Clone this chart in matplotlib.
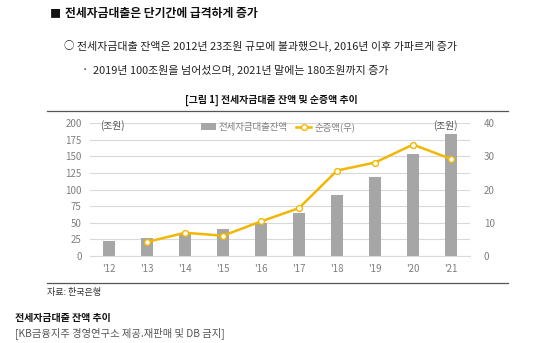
import numpy as np
import matplotlib
matplotlib.use('Agg')
import matplotlib.pyplot as plt
from matplotlib.lines import Line2D

plt.rcParams['font.family'] = ['Noto Sans CJK KR', 'DejaVu Sans']

W, H = 536, 343

# data
years = ["'12", "'13", "'14", "'15", "'16", "'17", "'18", "'19", "'20", "'21"]
balance = [23, 27, 34, 40, 50, 65, 91, 119, 153, 183]          # 잔액 (조원, left)
net_increase = [None, 4.2, 7.0, 6.1, 10.4, 14.4, 25.7, 28.1, 33.5, 29.2]  # 순증액 (조원, right)

BAR_COLOR = '#a6a6a6'
LINE_COLOR = '#f2b705'
GRID_COLOR = '#d9d9d9'
TICK_COLOR = '#7f7f7f'


def fx(px):
    return px / W


def fy(py):
    return 1 - py / H


fig = plt.figure(figsize=(W / 100, H / 100), dpi=100)
fig.patch.set_facecolor('white')

# page text above the chart
fig.text(fx(50), fy(14), '■', fontsize=8, va='center', ha='left', color='#111111')
fig.text(fx(65), fy(14), '전세자금대출은 단기간에 급격하게 증가', fontsize=8.5,
         fontweight='bold', va='center', ha='left', color='#111111')
fig.text(fx(64), fy(46), '○', fontsize=7.5, va='center', ha='left', color='#222222')
fig.text(fx(77), fy(46), '전세자금대출 잔액은 2012년 23조원 규모에 불과했으나, 2016년 이후 가파르게 증가',
         fontsize=7.9, va='center', ha='left', color='#222222')
fig.text(fx(82), fy(70), '·', fontsize=8, va='center', ha='left', color='#222222')
fig.text(fx(93), fy(70), '2019년 100조원을 넘어섰으며, 2021년 말에는 180조원까지 증가',
         fontsize=7.9, va='center', ha='left', color='#222222')

fig.text(fx(271), fy(100), '[그림 1] 전세자금대출 잔액 및 순증액 추이', fontsize=7.1,
         fontweight='bold', va='center', ha='center', color='#111111')
fig.add_artist(Line2D([fx(47), fx(508)], [fy(110.5), fy(110.5)], color='#555555', lw=0.9))
fig.add_artist(Line2D([fx(47), fx(508)], [fy(283), fy(283)], color='#555555', lw=0.9))

fig.text(fx(47), fy(292), '자료: 한국은행', fontsize=6.5, va='center', ha='left', color='#333333')
fig.text(fx(15), fy(318), '전세자금대출 잔액 추이', fontsize=7.2, fontweight='bold',
         va='center', ha='left', color='#111111')
fig.text(fx(15), fy(333), '[KB금융지주 경영연구소 제공.재판매 및 DB 금지]', fontsize=7.4,
         va='center', ha='left', color='#555555')

# chart
ax = fig.add_axes([fx(90), fy(256), fx(470) - fx(90), fy(123) - fy(256)])
x = np.arange(len(years))
ax.bar(x, balance, width=0.32, color=BAR_COLOR, zorder=2, label='전세자금대출잔액')
ax.set_xlim(-0.5, len(years) - 0.5)
ax.set_ylim(0, 200)
ax.set_yticks(np.arange(0, 201, 25))
ax.yaxis.grid(True, color=GRID_COLOR, lw=0.8, zorder=0)
ax.set_axisbelow(True)
ax.set_xticks(x)
ax.set_xticklabels(years)
for s in ['top', 'left', 'right']:
    ax.spines[s].set_visible(False)
ax.spines['bottom'].set_color(GRID_COLOR)
ax.tick_params(length=0, labelsize=7, colors=TICK_COLOR, pad=6)

ax2 = ax.twinx()
xs = [i for i, v in enumerate(net_increase) if v is not None]
vs = [v for v in net_increase if v is not None]
ax2.plot(xs, vs, color=LINE_COLOR, lw=1.8, marker='o', markersize=4.2,
         markerfacecolor='white', markeredgecolor=LINE_COLOR, markeredgewidth=1.0,
         zorder=3, label='순증액(우)')
ax2.set_ylim(0, 40)
ax2.set_yticks(np.arange(0, 41, 10))
for s in ['top', 'left', 'right', 'bottom']:
    ax2.spines[s].set_visible(False)
ax2.tick_params(length=0, labelsize=7, colors=TICK_COLOR, pad=10)

ax.text(0.1, 196, '(조원)', fontsize=7, color='#555555', va='center', ha='center')
ax.text(8.85, 196, '(조원)', fontsize=7, color='#555555', va='center', ha='center')

h1, l1 = ax.get_legend_handles_labels()
h2, l2 = ax2.get_legend_handles_labels()
ax.legend(h1 + h2, l1 + l2, loc='center', bbox_to_anchor=(fx(278), fy(127)),
          bbox_transform=fig.transFigure, ncol=2, frameon=False, fontsize=6.8,
          labelcolor='#7f7f7f', handlelength=1.6, handletextpad=0.3, columnspacing=0.9,
          borderpad=0, borderaxespad=0)

fig.savefig('out.png', dpi=100)
